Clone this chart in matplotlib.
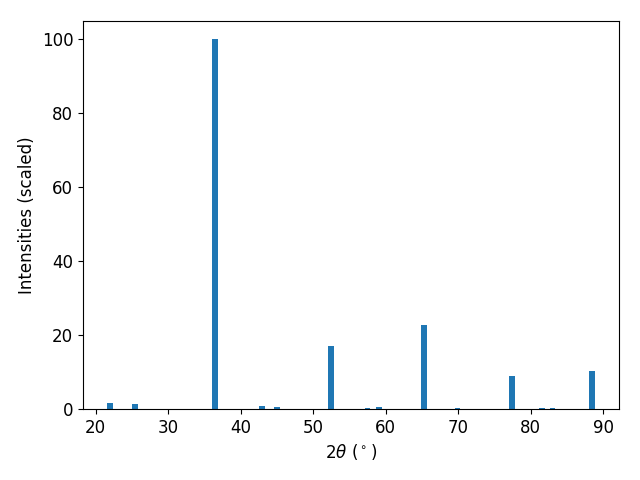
import matplotlib
matplotlib.use("Agg")
import matplotlib.pyplot as plt

two_theta = [22.03, 25.49, 36.42, 42.92, 45.0, 52.44, 57.5, 59.1, 65.3, 69.9, 77.36, 81.5, 83.0, 88.4]
intensity = [1.6, 1.35, 100.0, 0.8, 0.5, 17.1, 0.3, 0.6, 22.8, 0.3, 8.9, 0.3, 0.3, 10.3]

fig, ax = plt.subplots(figsize=(6.4, 4.8), dpi=100)
ax.bar(two_theta, intensity, width=0.8, color="#1f77b4")
ax.set_xlabel(r"$2\theta$ ($^\circ$)", fontsize=12)
ax.set_ylabel("Intensities (scaled)", fontsize=12)
ax.tick_params(labelsize=12)
fig.subplots_adjust(left=83/640, right=619/640, top=1-21/480, bottom=1-409/480)
fig.savefig("out.png")
